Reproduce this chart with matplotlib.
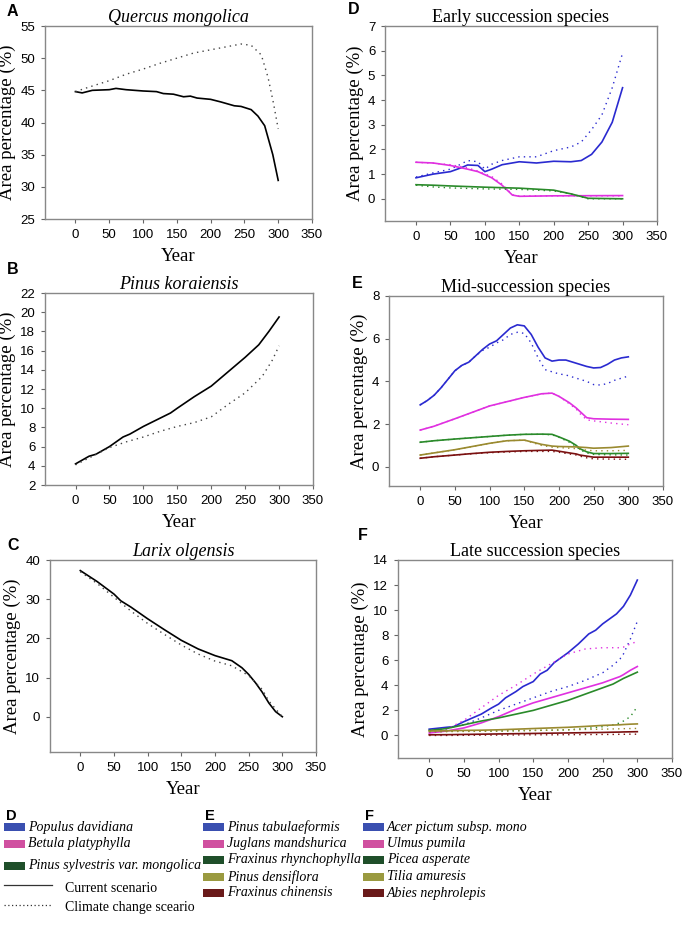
import numpy as np
import matplotlib
matplotlib.use("Agg")
import matplotlib.pyplot as plt
from matplotlib.patches import Rectangle
from matplotlib.lines import Line2D

# ---------------- data ----------------
# A  Quercus mongolica
a_x_cur = [0, 10, 25, 50, 60, 75, 100, 120, 130, 145, 160, 170, 180, 200, 215, 235, 245, 260, 270, 280, 292, 300]
a_y_cur = [44.8, 44.6, 45.0, 45.1, 45.3, 45.1, 44.9, 44.8, 44.5, 44.4, 44.0, 44.1, 43.8, 43.6, 43.2, 42.6, 42.5, 42.0, 41.0, 39.5, 35.0, 31.0]
a_x_cc = [0, 20, 50, 75, 100, 125, 150, 175, 200, 225, 245, 260, 275, 285, 293, 300]
a_y_cc = [44.8, 45.5, 46.5, 47.5, 48.3, 49.2, 50.0, 50.8, 51.3, 51.8, 52.2, 52.0, 50.5, 47.0, 43.0, 39.0]

# B  Pinus koraiensis
b_x_cur = [0, 10, 20, 30, 40, 50, 60, 70, 80, 100, 120, 140, 150, 175, 200, 225, 250, 270, 285, 300]
b_y_cur = [4.2, 4.6, 5.0, 5.2, 5.6, 6.0, 6.5, 7.0, 7.3, 8.1, 8.8, 9.5, 10.0, 11.2, 12.3, 13.8, 15.3, 16.6, 18.0, 19.5]
b_x_cc = [0, 25, 50, 75, 100, 125, 150, 175, 200, 225, 250, 275, 290, 300]
b_y_cc = [4.1, 5.0, 5.9, 6.5, 7.0, 7.6, 8.1, 8.5, 9.1, 10.4, 11.6, 13.3, 15.0, 16.5]

# C  Larix olgensis
c_x_cur = [0, 25, 50, 60, 75, 100, 125, 150, 175, 200, 225, 240, 250, 260, 270, 280, 290, 300]
c_y_cur = [37.3, 34.5, 31.3, 29.6, 28.0, 25.0, 22.2, 19.5, 17.3, 15.6, 14.3, 12.5, 10.8, 8.7, 6.3, 3.5, 1.3, 0.0]
c_x_cc = [0, 25, 50, 75, 100, 125, 150, 175, 200, 225, 250, 270, 280, 300]
c_y_cc = [37.0, 34.0, 30.5, 27.0, 23.8, 21.0, 18.3, 16.0, 14.2, 13.0, 10.5, 7.0, 4.0, 0.0]

# D  Early succession species
d_blue_x = [0, 25, 50, 65, 75, 90, 100, 110, 125, 150, 175, 200, 225, 240, 255, 270, 285, 300]
d_blue_cur = [0.85, 1.0, 1.1, 1.25, 1.37, 1.35, 1.1, 1.2, 1.38, 1.5, 1.45, 1.52, 1.5, 1.55, 1.8, 2.3, 3.1, 4.5]
d_blue_cc = [0.88, 1.05, 1.2, 1.4, 1.55, 1.5, 1.2, 1.4, 1.55, 1.7, 1.7, 1.95, 2.1, 2.3, 2.8, 3.4, 4.5, 5.9]
d_mag_x = [0, 25, 50, 75, 90, 110, 125, 140, 150, 200, 300]
d_mag_cur = [1.48, 1.45, 1.35, 1.2, 1.1, 0.85, 0.55, 0.15, 0.1, 0.12, 0.13]
d_mag_cc = [1.48, 1.44, 1.38, 1.25, 1.12, 0.9, 0.6, 0.16, 0.11, 0.12, 0.12]
d_grn_x = [0, 25, 50, 100, 150, 200, 225, 250, 300]
d_grn_cur = [0.57, 0.55, 0.52, 0.47, 0.43, 0.35, 0.2, 0.02, 0.0]
d_grn_cc = [0.55, 0.48, 0.44, 0.40, 0.38, 0.32, 0.2, 0.0, 0.0]

# E  Mid-succession species
e_x = [0, 10, 20, 30, 40, 50, 60, 70, 80, 90, 100, 110, 120, 130, 140, 150, 160, 170, 180, 190,
       200, 210, 220, 230, 240, 250, 260, 270, 280, 290, 300]
e_blue_cur = [2.9, 3.1, 3.35, 3.7, 4.1, 4.5, 4.75, 4.9, 5.2, 5.5, 5.75, 5.9, 6.2, 6.5, 6.65, 6.6, 6.2, 5.6, 5.1, 4.95,
              5.0, 5.0, 4.9, 4.8, 4.7, 4.63, 4.65, 4.8, 5.0, 5.1, 5.15]
e_blue_cc = [2.9, 3.1, 3.35, 3.7, 4.1, 4.5, 4.75, 4.9, 5.2, 5.45, 5.6, 5.8, 5.95, 6.2, 6.3, 6.25, 5.8, 5.1, 4.55, 4.45,
             4.35, 4.3, 4.2, 4.1, 4.0, 3.85, 3.83, 3.9, 4.05, 4.15, 4.25]
e_x2 = [0, 20, 50, 75, 100, 125, 150, 175, 190, 200, 215, 225, 230, 240, 250, 275, 300]
e_mag_cur = [1.72, 1.9, 2.25, 2.55, 2.85, 3.05, 3.25, 3.42, 3.45, 3.3, 3.0, 2.75, 2.6, 2.3, 2.25, 2.23, 2.22]
e_mag_cc = [1.72, 1.9, 2.25, 2.55, 2.85, 3.05, 3.25, 3.42, 3.45, 3.3, 2.95, 2.7, 2.5, 2.2, 2.15, 2.05, 1.97]
e_grn_cur = [1.15, 1.22, 1.3, 1.36, 1.42, 1.48, 1.52, 1.53, 1.52, 1.4, 1.2, 1.0, 0.85, 0.7, 0.62, 0.62, 0.63]
e_grn_cc = [1.15, 1.22, 1.3, 1.36, 1.42, 1.48, 1.52, 1.52, 1.5, 1.38, 1.15, 0.95, 0.8, 0.65, 0.58, 0.56, 0.55]
e_olv_cur = [0.55, 0.65, 0.8, 0.95, 1.1, 1.22, 1.25, 1.05, 0.97, 0.95, 0.94, 0.93, 0.92, 0.9, 0.87, 0.9, 0.97]
e_olv_cc = [0.55, 0.65, 0.8, 0.95, 1.1, 1.22, 1.25, 1.0, 0.92, 0.9, 0.87, 0.85, 0.82, 0.78, 0.75, 0.75, 0.77]
e_red_cur = [0.4, 0.47, 0.55, 0.62, 0.68, 0.72, 0.75, 0.77, 0.78, 0.73, 0.65, 0.6, 0.55, 0.5, 0.45, 0.45, 0.45]
e_red_cc = [0.4, 0.47, 0.55, 0.61, 0.66, 0.69, 0.72, 0.72, 0.72, 0.68, 0.6, 0.55, 0.5, 0.42, 0.37, 0.36, 0.35]

# F  Late succession species
f_x = [0, 25, 35, 50, 75, 90, 100, 110, 125, 135, 150, 160, 170, 180, 200, 215, 230, 240, 250, 260, 270, 280, 290, 300]
f_blue_cur = [0.5, 0.65, 0.7, 1.1, 1.7, 2.2, 2.5, 3.0, 3.5, 3.9, 4.3, 4.9, 5.2, 5.8, 6.6, 7.3, 8.1, 8.4, 8.9, 9.3, 9.7, 10.3, 11.2, 12.4]
f_x2 = [0, 25, 50, 75, 100, 125, 150, 175, 200, 225, 250, 265, 275, 280, 290, 300]
f_blue_cc = [0.45, 0.55, 0.85, 1.4, 2.0, 2.5, 3.0, 3.5, 3.9, 4.4, 5.0, 5.6, 6.1, 6.5, 7.7, 9.1]
f_mag_cur = [0.2, 0.35, 0.6, 1.0, 1.5, 2.1, 2.6, 3.0, 3.4, 3.8, 4.2, 4.5, 4.7, 4.85, 5.2, 5.5]
f_mag_cc = [0.2, 0.5, 1.2, 2.2, 3.2, 4.0, 4.9, 5.7, 6.5, 6.9, 7.0, 7.0, 7.0, 7.05, 7.3, 7.5]
f_grn_cur = [0.4, 0.55, 0.85, 1.15, 1.4, 1.7, 2.0, 2.4, 2.8, 3.3, 3.8, 4.1, 4.4, 4.55, 4.8, 5.05]
f_grn_cc = [0.3, 0.32, 0.35, 0.35, 0.35, 0.38, 0.4, 0.42, 0.45, 0.55, 0.7, 0.85, 1.0, 1.15, 1.5, 2.3]
f_olv_cur = [0.35, 0.37, 0.4, 0.42, 0.45, 0.5, 0.55, 0.6, 0.65, 0.72, 0.8, 0.83, 0.85, 0.87, 0.9, 0.92]
f_olv_cc = [0.3, 0.31, 0.32, 0.33, 0.35, 0.37, 0.4, 0.42, 0.45, 0.48, 0.5, 0.52, 0.53, 0.54, 0.55, 0.56]
f_red_cur = [0.05, 0.06, 0.08, 0.1, 0.12, 0.14, 0.16, 0.18, 0.2, 0.22, 0.24, 0.26, 0.27, 0.28, 0.29, 0.3]
f_red_cc = [0.0, 0.0, 0.01, 0.02, 0.03, 0.04, 0.05, 0.05, 0.06, 0.07, 0.08, 0.08, 0.09, 0.09, 0.1, 0.1]

legend_d = ["Populus davidiana", "Betula platyphylla", "Pinus sylvestris var. mongolica"]
legend_e = ["Pinus tabulaeformis", "Juglans mandshurica", "Fraxinus rhynchophylla", "Pinus densiflora", "Fraxinus chinensis"]
legend_f = ["Acer pictum subsp. mono", "Ulmus pumila", "Picea asperate", "Tilia amuresis", "Abies nephrolepis"]

# ---------------- style ----------------
BLUE, MAG, GRN, OLV, RED = "#2a2ad0", "#e030e0", "#2a8a2a", "#9a8a30", "#7a1010"
PATCH = ["#3a4fb0", "#d050a0", "#1f4f2a", "#9a9a40", "#6a1a1a"]
SERIF = "Liberation Serif"
SANS = "Liberation Sans"

W, H = 685, 936
fig = plt.figure(figsize=(W / 100, H / 100), dpi=100)


def make_ax(l, r, t, b, ylim, yticks, title, italic, letter, lx, ly):
    ax = fig.add_axes([l / W, 1 - b / H, (r - l) / W, (b - t) / H])
    ax.set_xlim(-45, 350)
    ax.set_ylim(*ylim)
    ax.set_xticks(range(0, 351, 50))
    ax.set_yticks(yticks)
    for s in ax.spines.values():
        s.set_color("#888888")
        s.set_linewidth(1.0)
    ax.tick_params(direction="out", length=3, width=0.8, color="#666666",
                   labelsize=9.5, pad=4)
    for lab in ax.get_xticklabels() + ax.get_yticklabels():
        lab.set_fontfamily(SANS)
    ax.set_xlabel("Year", fontfamily=SERIF, fontsize=13.5, labelpad=5)
    ax.set_ylabel("Area percentage (%)", fontfamily=SERIF, fontsize=13.5, labelpad=3)
    ax.set_title(title, fontfamily=SERIF, fontsize=13,
                 fontstyle="italic" if italic else "normal", pad=2)
    fig.text(lx / W, 1 - ly / H, letter, fontfamily=SANS, fontweight="bold",
             fontsize=11.5, va="center", ha="left")
    return ax


axA = make_ax(45, 312, 26, 219, (25, 55), range(25, 56, 5), "Quercus mongolica", True, "A", 7, 11)
axA.plot(a_x_cur, a_y_cur, color="black", lw=1.2)
axA.plot(a_x_cc, a_y_cc, color="#444444", lw=1.0, ls=(0, (1, 3)))

axB = make_ax(45, 313, 293, 485, (2, 22), range(2, 23, 2), "Pinus koraiensis", True, "B", 7, 270)
axB.plot(b_x_cur, b_y_cur, color="black", lw=1.2)
axB.plot(b_x_cc, b_y_cc, color="#444444", lw=1.0, ls=(0, (1, 3)))

axC = make_ax(50, 316, 560, 752, (-9, 40), range(0, 41, 10), "Larix olgensis", True, "C", 7, 545)
axC.plot(c_x_cur, c_y_cur, color="black", lw=1.2)
axC.plot(c_x_cc, c_y_cc, color="#444444", lw=1.0, ls=(0, (1, 3)))

axD = make_ax(385, 657, 26, 221, (-0.9, 7), range(0, 8), "Early succession species", False, "D", 348, 10)
for x, cur, cc, col in [(d_blue_x, d_blue_cur, d_blue_cc, BLUE),
                        (d_mag_x, d_mag_cur, d_mag_cc, MAG),
                        (d_grn_x, d_grn_cur, d_grn_cc, GRN)]:
    axD.plot(x, cur, color=col, lw=1.2)
    axD.plot(x, cc, color=col, lw=1.0, ls=(0, (1, 3)))

axE = make_ax(389, 663, 296, 486, (-0.9, 8), range(0, 9, 2), "Mid-succession species", False, "E", 352, 283)
axE.plot(e_x, e_blue_cur, color=BLUE, lw=1.2)
axE.plot(e_x, e_blue_cc, color=BLUE, lw=1.0, ls=(0, (1, 3)))
for cur, cc, col in [(e_mag_cur, e_mag_cc, MAG), (e_grn_cur, e_grn_cc, GRN),
                     (e_olv_cur, e_olv_cc, OLV), (e_red_cur, e_red_cc, RED)]:
    axE.plot(e_x2, cur, color=col, lw=1.2)
    axE.plot(e_x2, cc, color=col, lw=1.0, ls=(0, (1, 3)))

axF = make_ax(398, 672, 560, 758, (-1.8, 14), range(0, 15, 2), "Late succession species", False, "F", 358, 536)
axF.plot(f_x, f_blue_cur, color=BLUE, lw=1.2)
axF.plot(f_x2, f_blue_cc, color=BLUE, lw=1.0, ls=(0, (1, 3)))
for cur, cc, col in [(f_mag_cur, f_mag_cc, MAG), (f_grn_cur, f_grn_cc, GRN),
                     (f_olv_cur, f_olv_cc, OLV), (f_red_cur, f_red_cc, RED)]:
    axF.plot(f_x2, cur, color=col, lw=1.2)
    axF.plot(f_x2, cc, color=col, lw=1.0, ls=(0, (1, 3)))

# ---------------- legend block ----------------
LEG_FS = 10


def px(x, y):
    return x / W, 1 - y / H


def legend_col(x0, header, names, rows):
    fig.text(*px(x0 + 2, 816), header, fontfamily=SANS, fontweight="bold",
             fontsize=10.5, va="center")
    for i, name in enumerate(names):
        y = rows[i]
        fx, fy = px(x0, y + 4)
        fig.add_artist(Rectangle((fx, fy), 21 / W, 8 / H, transform=fig.transFigure,
                                 facecolor=PATCH[i], edgecolor="none"))
        fig.text(*px(x0 + 24, y), name, fontfamily=SERIF, fontstyle="italic",
                 fontsize=LEG_FS, va="center")


legend_col(4, "D", legend_d, [827, 844, 866])
legend_col(203, "E", legend_e, [827, 844, 860, 877, 893])
legend_col(363, "F", legend_f, [827, 844, 860, 877, 893])

for y, ls, txt in [(886, "-", "Current scenario"), (906, (0, (1, 2)), "Climate change sceario")]:
    x1, yy = px(4, y - 1)
    x2, _ = px(52, y - 1)
    fig.add_artist(Line2D([x1, x2], [yy, yy], transform=fig.transFigure,
                          color="#333333", lw=0.9, ls=ls))
    fig.text(*px(65, y + 2), txt, fontfamily=SERIF, fontsize=LEG_FS, va="center")

fig.savefig("out.png", dpi=100)
